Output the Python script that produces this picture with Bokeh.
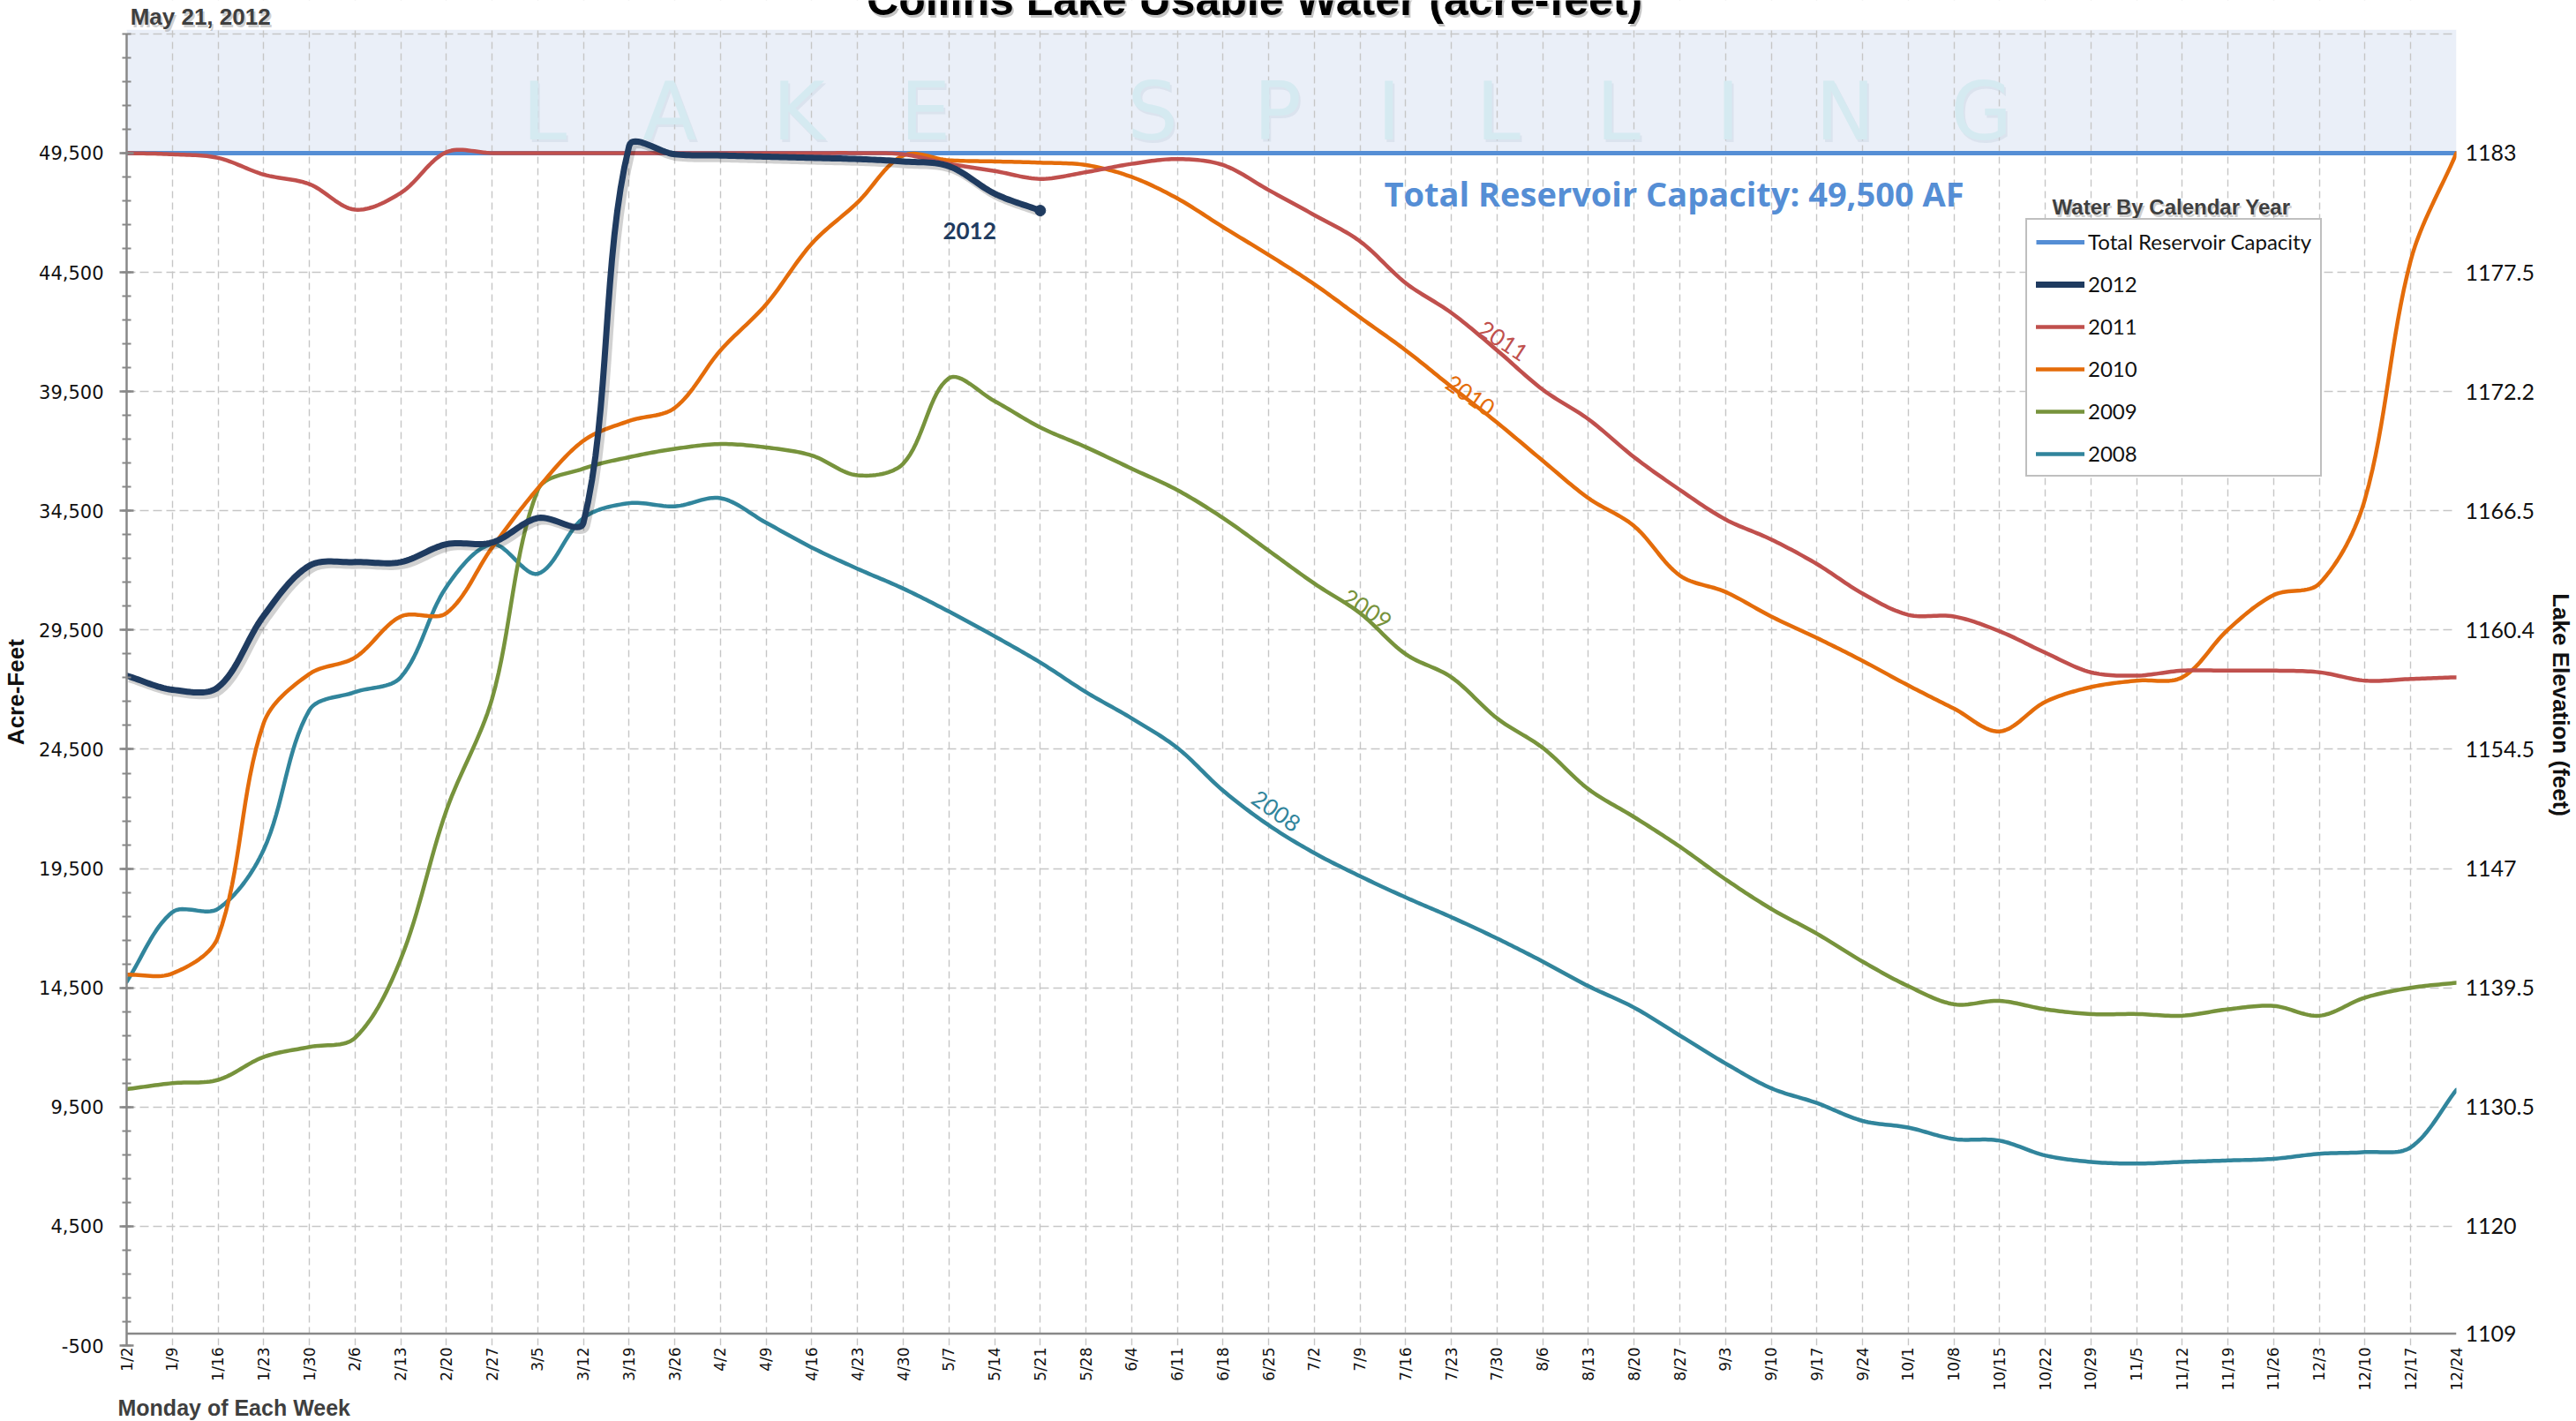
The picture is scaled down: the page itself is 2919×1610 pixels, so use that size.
import math
import numpy as np
from bokeh.plotting import figure
from bokeh.models import (Range1d, FixedTicker, LinearAxis, NumeralTickFormatter, Span,
                          BoxAnnotation, Label, Legend, LegendItem, Title)
from bokeh.embed import file_html
from bokeh.resources import INLINE

# ---------------- data ----------------
week_labels = ["1/2", "1/9", "1/16", "1/23", "1/30", "2/6", "2/13", "2/20", "2/27", "3/5",
               "3/12", "3/19", "3/26", "4/2", "4/9", "4/16", "4/23", "4/30", "5/7", "5/14",
               "5/21", "5/28", "6/4", "6/11", "6/18", "6/25", "7/2", "7/9", "7/16", "7/23",
               "7/30", "8/6", "8/13", "8/20", "8/27", "9/3", "9/10", "9/17", "9/24", "10/1",
               "10/8", "10/15", "10/22", "10/29", "11/5", "11/12", "11/19", "11/26", "12/3",
               "12/10", "12/17", "12/24"]

capacity_af = 49500

af_2012 = [27590, 27000, 27100, 30100, 32200, 32350, 32350, 33100, 33170, 34200,
           34000, 49800, 49450, 49400, 49350, 49300, 49250, 49150, 48950, 47800, 47090]

af_2011 = [49500, 49450, 49300, 48600, 48200, 47130, 47830, 49540, 49500, 49500,
           49500, 49500, 49500, 49500, 49500, 49500, 49500, 49450, 49050, 48750,
           48420, 48700, 49050, 49250, 49000, 47950, 46900, 45800, 44050, 42800,
           41230, 39580, 38340, 36750, 35380, 34140, 33300, 32270, 31030, 30140,
           30070, 29450, 28550, 27730, 27590, 27800, 27800, 27800, 27730, 27380,
           27450, 27520]

af_2010 = [15050, 15100, 16630, 25600, 27660, 28350, 30070, 30210, 32960, 35440,
           37440, 38270, 38820, 41230, 43160, 45710, 47430, 49400, 49200, 49150,
           49100, 49000, 48500, 47600, 46400, 45230, 44000, 42610, 41230, 39700,
           38200, 36600, 35030, 33860, 31790, 31100, 30070, 29170, 28210, 27180,
           26210, 25250, 26490, 27110, 27380, 27520, 29520, 30970, 31450, 35000,
           45000, 49500]

af_2009 = [10250, 10500, 10640, 11600, 12020, 12400, 15700, 21940, 26620, 35370,
           36270, 36750, 37100, 37300, 37160, 36820, 35990, 36480, 40060, 39100,
           38000, 37170, 36270, 35370, 34200, 32830, 31450, 30210, 28490, 27520,
           25800, 24560, 22830, 21660, 20420, 19050, 17810, 16770, 15600, 14570,
           13810, 13950, 13600, 13400, 13400, 13330, 13600, 13740, 13330, 14090,
           14500, 14710]

af_2008 = [14750, 17670, 17810, 20290, 26140, 26900, 27520, 31310, 33100, 31860,
           34200, 34820, 34690, 35030, 34000, 32960, 32070, 31240, 30280, 29240,
           28140, 26900, 25800, 24560, 22770, 21320, 20150, 19180, 18290, 17460,
           16570, 15600, 14570, 13670, 12500, 11330, 10290, 9670, 8920, 8640,
           8160, 8090, 7470, 7200, 7130, 7200, 7260, 7330, 7540, 7610,
           7810, 10220]

af_ticks = [-500, 4500, 9500, 14500, 19500, 24500, 29500, 34500, 39500, 44500, 49500]
grid_ticks = af_ticks + [54500]
elev_ticks_af = [49500, 44500, 39500, 34500, 29500, 24500, 19500, 14500, 9500, 4500, 0]
elev_labels = ["1183", "1177.5", "1172.2", "1166.5", "1160.4", "1154.5", "1147",
               "1139.5", "1130.5", "1120", "1109"]

series_names = ["2012", "2011", "2010", "2009", "2008"]

weeks = list(range(len(week_labels)))

# ---------------- layout ----------------
W, H = 2919, 1610
B_LEFT, B_RIGHT, B_TOP, B_BOTTOM = 143, 136, 0, 86
PLOT_TOP_AF = 54680             # top of the drawn chart area (spill band top)
X0, X1 = 0.0, float(len(week_labels) - 1)
Y0 = -500
PX_X = (W - B_LEFT - B_RIGHT) / (X1 - X0)
PX_Y = 1491.0 / (PLOT_TOP_AF - Y0)          # pixels per acre-foot
Y1 = Y0 + (H - B_TOP - B_BOTTOM) / PX_Y     # frame reaches the top of the canvas

# (ascent, descent) per em, used to turn a wanted baseline into a box centre
FONT_METRICS = {"Liberation Sans": (0.905, 0.212), "DejaVu Sans": (0.928, 0.236),
                "Lato": (0.987, 0.213), "Open Sans": (1.069, 0.293)}
NB = "\u00a0"


def smooth(xs, ys, n=16):
    """Excel-style smoothed line: Bezier segments whose control arms are
    weighted by neighbouring segment lengths measured on screen."""
    xs = np.asarray(xs, float)
    ys = np.asarray(ys, float)
    px = np.concatenate([[xs[0]], xs, [xs[-1]]])
    py = np.concatenate([[ys[0]], ys, [ys[-1]]])

    def dist(i, j):
        return math.hypot((px[j] - px[i]) * PX_X, (py[j] - py[i]) * PX_Y) + 1e-9

    t = np.linspace(0, 1, n, endpoint=False)
    ox, oy = [], []
    for i in range(1, len(px) - 2):
        d01, d12, d23 = dist(i - 1, i), dist(i, i + 1), dist(i + 1, i + 2)
        f1 = d12 / (d01 + d12) / 3.0
        f2 = d12 / (d12 + d23) / 3.0
        x0, x1, x2, x3 = px[i - 1], px[i], px[i + 1], px[i + 2]
        y0, y1, y2, y3 = py[i - 1], py[i], py[i + 1], py[i + 2]
        c1x, c1y = x1 + (x2 - x0) * f1, y1 + (y2 - y0) * f1
        c2x, c2y = x2 - (x3 - x1) * f2, y2 - (y3 - y1) * f2
        a = (1 - t) ** 3
        b = 3 * (1 - t) ** 2 * t
        c = 3 * (1 - t) * t ** 2
        d = t ** 3
        ox.extend(a * x1 + b * c1x + c * c2x + d * x2)
        oy.extend(a * y1 + b * c1y + c * c2y + d * y2)
    ox.append(xs[-1])
    oy.append(ys[-1])
    return ox, oy


# ---------------- figure ----------------
p = figure(width=W, height=H, output_backend="svg", toolbar_location=None,
           x_range=Range1d(X0, X1), y_range=Range1d(Y0, Y1),
           min_border_left=B_LEFT, min_border_right=B_RIGHT, min_border_top=B_TOP,
           min_border_bottom=B_BOTTOM)
p.outline_line_color = None
p.background_fill_color = "white"
p.border_fill_color = "white"

# spill band
p.add_layout(BoxAnnotation(bottom=capacity_af, top=PLOT_TOP_AF, fill_color="#eaeff8",
                           fill_alpha=1.0, line_color=None, level="image"))

# grids
p.xgrid.ticker = FixedTicker(ticks=weeks)
p.xgrid.grid_line_color = "#c6c6c6"
p.xgrid.grid_line_dash = "8 5"
p.xgrid.grid_line_width = 1.4
p.ygrid.ticker = FixedTicker(ticks=grid_ticks)
p.ygrid.grid_line_color = "#c6c6c6"
p.ygrid.grid_line_dash = "10 5"
p.ygrid.grid_line_width = 1.6

# blank strip above the chart area (hides grid lines there)
p.add_layout(BoxAnnotation(bottom=PLOT_TOP_AF, fill_color="white", fill_alpha=1.0,
                           line_color=None, level="underlay"))

# x axis
xa = p.xaxis[0]
xa.ticker = FixedTicker(ticks=weeks)
xa.major_label_overrides = {w: lab for w, lab in zip(weeks, week_labels)}
xa.major_label_orientation = math.pi / 2
xa.major_label_text_font = "DejaVu Sans"
xa.major_label_text_font_size = "17px"
xa.major_label_text_color = "#111111"
xa.major_label_standoff = 2
xa.major_tick_in = 0
xa.major_tick_out = 0
xa.minor_tick_in = 0
xa.minor_tick_out = 0
xa.axis_line_color = None

p.add_layout(Title(text="Monday of Each Week", align="left", offset=-10, standoff=0,
                   text_font="Liberation Sans", text_font_style="bold",
                   text_font_size="25px", text_color="#3f3f3f"), "below")

# left y axis
ya = p.yaxis[0]
ya.ticker = FixedTicker(ticks=af_ticks, minor_ticks=list(range(-500, 54501, 1000)))
ya.formatter = NumeralTickFormatter(format="0,0")
ya.bounds = (-500, 54500)
ya.axis_line_color = "#888888"
ya.axis_line_width = 2.5
ya.major_tick_line_color = "#888888"
ya.major_tick_line_width = 2.5
ya.minor_tick_line_color = "#888888"
ya.minor_tick_line_width = 2
ya.major_tick_in = 8
ya.major_tick_out = 8
ya.minor_tick_in = 5
ya.minor_tick_out = 5
ya.major_label_text_font = "DejaVu Sans"
ya.major_label_text_font_size = "21px"
ya.major_label_text_color = "#111111"
ya.major_label_standoff = 18
# trailing no-break spaces move the centred label down to the chart-area middle
ya.axis_label = "Acre-Feet" + NB * 6
ya.axis_label_text_font = "Liberation Sans"
ya.axis_label_text_font_style = "bold"
ya.axis_label_text_font_size = "26px"
ya.axis_label_text_color = "#111111"
ya.axis_label_standoff = 8

# right axis (lake elevation)
ra = LinearAxis(ticker=FixedTicker(ticks=elev_ticks_af),
                major_label_overrides={a: s for a, s in zip(elev_ticks_af, elev_labels)})
ra.axis_line_color = None
ra.major_tick_in = 0
ra.major_tick_out = 0
ra.minor_tick_in = 0
ra.minor_tick_out = 0
ra.major_label_text_font = "Lato"
ra.major_label_text_font_size = "25px"
ra.major_label_text_color = "#111111"
ra.major_label_standoff = 10
ra.axis_label = NB * 10 + "Lake Elevation (feet)"
ra.axis_label_text_font = "Liberation Sans"
ra.axis_label_text_font_style = "bold"
ra.axis_label_text_font_size = "26px"
ra.axis_label_text_color = "#111111"
ra.axis_label_standoff = 12
p.add_layout(ra, "right")

# zero line (solid axis line of the chart)
p.add_layout(Span(location=0, dimension="width", line_color="#888888", line_width=2.5))


# ---------------- text decorations ----------------
def add_text(x, y, text, size, color, font="Liberation Sans", style="bold",
             align="left", on_baseline=True, angle=0.0, shadow=None, level="annotation"):
    """y is the wanted baseline (data units) when on_baseline, else the centre."""
    if on_baseline:
        asc, desc = FONT_METRICS[font]
        y = y + (asc - desc) / 2.0 * size / PX_Y
    common = dict(x=x, y=y, text=text, text_font=font, text_font_style=style,
                  text_font_size=f"{size}px", text_align=align,
                  text_baseline="middle", angle=angle, level=level)
    if shadow:
        p.add_layout(Label(text_color=shadow, text_alpha=0.35, x_offset=2, y_offset=-3,
                           **common))
    p.add_layout(Label(text_color=color, **common))


spill = (NB * 3).join("LAKE") + NB * 7 + (NB * 3).join("SPILLING")
add_text(24.97, 50080, spill, 90, "#d5eaf1", font="DejaVu Sans", style="normal",
         align="center", shadow="#c0cfdc", level="underlay")

add_text(24.69, 55273, "Collins Lake Usable Water (acre-feet)", 50, "#000000",
         align="center", shadow="#555555")
add_text(0.08, 54870, "May 21, 2012", 26, "#3f3f3f", shadow="#777777")
add_text(27.53, 47280, "Total Reservoir Capacity: 49,500 AF", 38, "#558ed5",
         font="Open Sans", style="bold")
add_text(44.76, 46946, "Water By Calendar Year", 24, "#3f3f3f", align="center",
         shadow="#777777")

# ---------------- series ----------------
cap_line = p.line(weeks, [capacity_af] * len(weeks), line_color="#558ed5", line_width=5)

renderers = {}
for name, color, data in [("2008", "#31859c", af_2008),
                          ("2009", "#77933c", af_2009),
                          ("2010", "#e46c0a", af_2010),
                          ("2011", "#c0504d", af_2011)]:
    sx, sy = smooth(weeks[:len(data)], data)
    renderers[name] = p.line(sx, sy, line_color=color, line_width=4.5,
                             line_join="round", line_cap="round")

sx, sy = smooth(weeks[:len(af_2012)], af_2012)
p.line([v + 0.06 for v in sx], [v - 120 for v in sy], line_color="#000000",
       line_alpha=0.18, line_width=9, line_join="round")
renderers["2012"] = p.line(sx, sy, line_color="#1f3b60", line_width=7,
                           line_join="round", line_cap="round")
p.scatter([weeks[len(af_2012) - 1]], [af_2012[-1]], size=12, color="#1f3b60")

# series labels on the curves (centred)
add_text(18.45, 46240, "2012", 26, "#1f3b60", font="Lato", style="bold",
         align="center", on_baseline=False)
add_text(30.14, 41650, "2011", 26, "#c0504d", font="Lato", style="normal",
         align="center", on_baseline=False, angle=-0.58)
add_text(29.42, 39360, "2010", 26, "#e46c0a", font="Lato", style="normal",
         align="center", on_baseline=False, angle=-0.6)
add_text(27.16, 30400, "2009", 26, "#77933c", font="Lato", style="normal",
         align="center", on_baseline=False, angle=-0.58)
add_text(25.17, 21930, "2008", 26, "#31859c", font="Lato", style="normal",
         align="center", on_baseline=False, angle=-0.62)

# ---------------- legend ----------------
items = [LegendItem(label="Total Reservoir Capacity", renderers=[cap_line])]
for name in series_names:
    items.append(LegendItem(label=name, renderers=[renderers[name]]))
legend = Legend(items=items, location=(2152, 984), margin=0, padding=10, spacing=19,
                glyph_width=55, glyph_height=24, label_height=24, label_standoff=4,
                label_text_font="Lato", label_text_font_size="24px",
                label_text_color="#111111", border_line_color="#7f7f7f",
                border_line_width=2.5, background_fill_color="white",
                background_fill_alpha=1.0)
p.add_layout(legend)

open("out.html", "w").write(file_html(p, INLINE))
